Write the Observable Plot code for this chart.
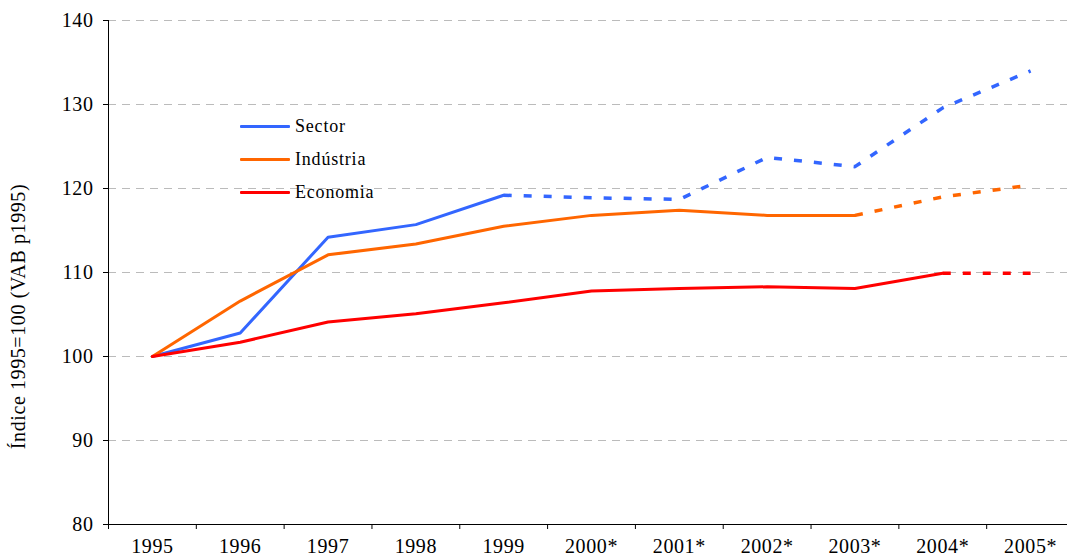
<!DOCTYPE html>
<html><head><meta charset="utf-8">
<script src="https://cdn.jsdelivr.net/npm/d3@7"></script>
<script src="https://cdn.jsdelivr.net/npm/@observablehq/plot@0.6"></script>
<style>
body{margin:0;background:#fff;font-family:"Liberation Serif","Times New Roman",Times,serif;}
#wrap{position:relative;width:1067px;height:558px;}
#wrap svg, #wrap svg text{font-family:"Liberation Serif","Times New Roman",Times,serif !important;}
#legend{position:absolute;left:240px;top:110px;font-size:18px;letter-spacing:0.8px;color:#000;font-family:"Liberation Serif","Times New Roman",Times,serif;}
#legend .row{display:flex;align-items:center;height:33px;}
#legend .sw{width:50px;height:3px;margin-right:5px;border-radius:1px;}
</style></head><body>
<div id="wrap"></div>
<script>
const years = ["1995","1996","1997","1998","1999","2000*","2001*","2002*","2003*","2004*","2005*"];
const sector    = [100, 102.8, 114.2, 115.7, 119.2, 118.9, 118.7, 123.7, 122.6, 129.6, 134.0];
const industria = [100, 106.6, 112.1, 113.4, 115.5, 116.8, 117.4, 116.8, 116.8, 119.0, 120.4];
const economia  = [100, 101.7, 104.1, 105.1, 106.4, 107.8, 108.1, 108.3, 108.1, 109.9, 109.9];
const seriesNames = ["Sector","Indústria","Economia"];
const seriesColors = ["#3366ff","#ff6600","#ff0000"];
const dashFrom = [4, 8, 9]; // index where the dashed (estimate) part begins
const yTicks = [80, 90, 100, 110, 120, 130, 140];

const allSeries = [sector, industria, economia];
const rows = [];
allSeries.forEach((vals, s) => vals.forEach((v, i) => rows.push({i, v, s: seriesNames[s], solid: i <= dashFrom[s], dashed: i >= dashFrom[s]})));

const marks = [
  Plot.gridY(yTicks.slice(1), {stroke: "#bbb", strokeOpacity: 1, strokeDasharray: "8,6", strokeWidth: 1}),
  Plot.axisY({ticks: yTicks, tickSize: 5, tickPadding: 10, fontSize: 20, label: null}),
  Plot.axisX({ticks: d3.range(years.length), tickSize: 0, tickPadding: 14, fontSize: 20, tickFormat: i => years[i], label: null}),
  Plot.axisX({ticks: d3.range(-0.5, years.length, 1), tickSize: 5, tickFormat: () => "", label: null}),
  Plot.ruleY([80], {stroke: "#000", strokeWidth: 1}),
  Plot.ruleX([-0.5], {stroke: "#000", strokeWidth: 1}),
  Plot.text(["Índice 1995=100 (VAB p1995)"], {frameAnchor: "left", dx: -90, dy: 44, rotate: -90, textAnchor: "middle", fontSize: 20, text: d => d})
];
seriesNames.forEach((name, s) => {
  marks.push(Plot.line(rows.filter(r => r.s === name && r.solid), {x: "i", y: "v", stroke: seriesColors[s], strokeWidth: 3}));
  marks.push(Plot.line(rows.filter(r => r.s === name && r.dashed), {x: "i", y: "v", stroke: seriesColors[s], strokeWidth: 3.5, strokeDasharray: "8,12", strokeLinecap: "butt"}));
});

const chart = Plot.plot({
  width: 1067, height: 558,
  marginLeft: 108, marginTop: 20, marginBottom: 34, marginRight: 0,
  style: {fontSize: "20px", color: "#000", background: "#fff"},
  x: {domain: [-0.5, years.length - 0.5], range: [108, 1074]},
  y: {domain: [80, 140], range: [524, 20]},
  marks
});
const wrap = document.getElementById("wrap");
wrap.appendChild(chart);
chart.querySelectorAll("text").forEach(t => t.style.letterSpacing = "0.6px");
const lg = document.createElement("div");
lg.id = "legend";
seriesNames.forEach((n, s) => {
  const r = document.createElement("div"); r.className = "row";
  r.innerHTML = `<div class="sw" style="background:${seriesColors[s]}"></div><span>${n}</span>`;
  lg.appendChild(r);
});
wrap.appendChild(lg);
</script>
</body></html>
